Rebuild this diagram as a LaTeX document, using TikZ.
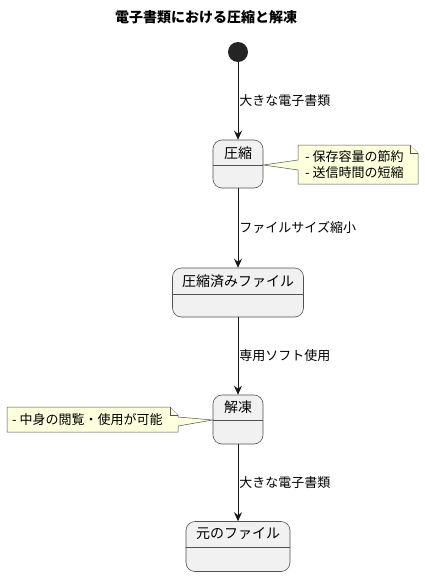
\documentclass[tikz,border=0pt]{standalone}
\usepackage{fontspec}
\setmainfont{Noto Sans CJK JP}
\usetikzlibrary{arrows.meta}
\definecolor{statefill}{HTML}{F1F1F1}
\definecolor{lineclr}{HTML}{181818}
\definecolor{notefill}{HTML}{FEFFDD}
\tikzset{
  statebox/.style={draw=lineclr!75, fill=statefill, rounded corners=9pt, line width=0.6pt, inner sep=0pt},
  stitle/.style={font=\fontsize{14}{16}\selectfont, inner sep=0pt, text=black},
  elabel/.style={font=\fontsize{13}{15}\selectfont, inner sep=0pt, anchor=west, text=black},
  arr/.style={draw=lineclr, line width=0.8pt, -{Stealth[length=9pt,width=8pt,inset=3pt]}},
  notebox/.style={draw=lineclr!75, fill=notefill, line width=0.5pt},
  ntext/.style={font=\fontsize{13}{16}\selectfont, inner sep=0pt, anchor=west, align=left, text=black},
}
\begin{document}
\begin{tikzpicture}[x=1pt,y=-1pt]
\useasboundingbox[fill=white] (0,0) rectangle (424,576);
% title
\node[font=\bfseries\fontsize{14}{16}\selectfont, inner sep=0pt] (title) at (206,17) {電子書類における圧縮と解凍};
% start
\node[circle, fill=lineclr!95, minimum size=20pt, inner sep=0pt] (start) at (238,52) {};
% states
\node[statebox, minimum width=50pt, minimum height=48pt] (s1) at (238,164) {};
\node[stitle] (t1) at (238,153) {圧縮};
\draw[lineclr!75, line width=0.6pt] (s1.west |- 0,165) -- (s1.east |- 0,165);

\node[statebox, minimum width=131pt, minimum height=49pt] (s2) at (238,292.5) {};
\node[stitle] (t2) at (238,281) {圧縮済みファイル};
\draw[lineclr!75, line width=0.6pt] (s2.west |- 0,294) -- (s2.east |- 0,294);

\node[statebox, minimum width=50pt, minimum height=49pt] (s3) at (238,419.5) {};
\node[stitle] (t3) at (238,407) {解凍};
\draw[lineclr!75, line width=0.6pt] (s3.west |- 0,420) -- (s3.east |- 0,420);

\node[statebox, minimum width=104pt, minimum height=50pt] (s4) at (238,546.5) {};
\node[stitle] (t4) at (238,534) {元のファイル};
\draw[lineclr!75, line width=0.6pt] (s4.west |- 0,547) -- (s4.east |- 0,547);

% arrows
\draw[arr] (start) -- (s1) node[elabel, midway, xshift=1pt] (l1) {大きな電子書類};
\draw[arr] (s1) -- (s2) node[elabel, midway, xshift=1pt] (l2) {ファイルサイズ縮小};
\draw[arr] (s2) -- (s3) node[elabel, midway, xshift=1pt] (l3) {専用ソフト使用};
\draw[arr] (s3) -- (s4) node[elabel, midway, xshift=1pt] (l4) {大きな電子書類};

% note 1
\coordinate (n1a) at (s1.east |- 0,165);
\draw[notebox] (298,145) -- (410,145) -- (418,153) -- (418,184) -- (298,184) -- (298,170) -- (n1a) -- (298,160) -- cycle;
\draw[notebox] (410,145) -- (410,153) -- (418,153);
\node[ntext] (n1) at (305,164.5) {- 保存容量の節約\\- 送信時間の短縮};

% note 2
\coordinate (n2a) at (s3.west |- 0,420);
\draw[notebox] (7,407) -- (170,407) -- (178,415) -- (178,417) -- (n2a) -- (178,426) -- (178,432) -- (7,432) -- cycle;
\draw[notebox] (170,407) -- (170,415) -- (178,415);
\node[ntext] (n2) at (12,419.5) {- 中身の閲覧・使用が可能};
\end{tikzpicture}
\end{document}
